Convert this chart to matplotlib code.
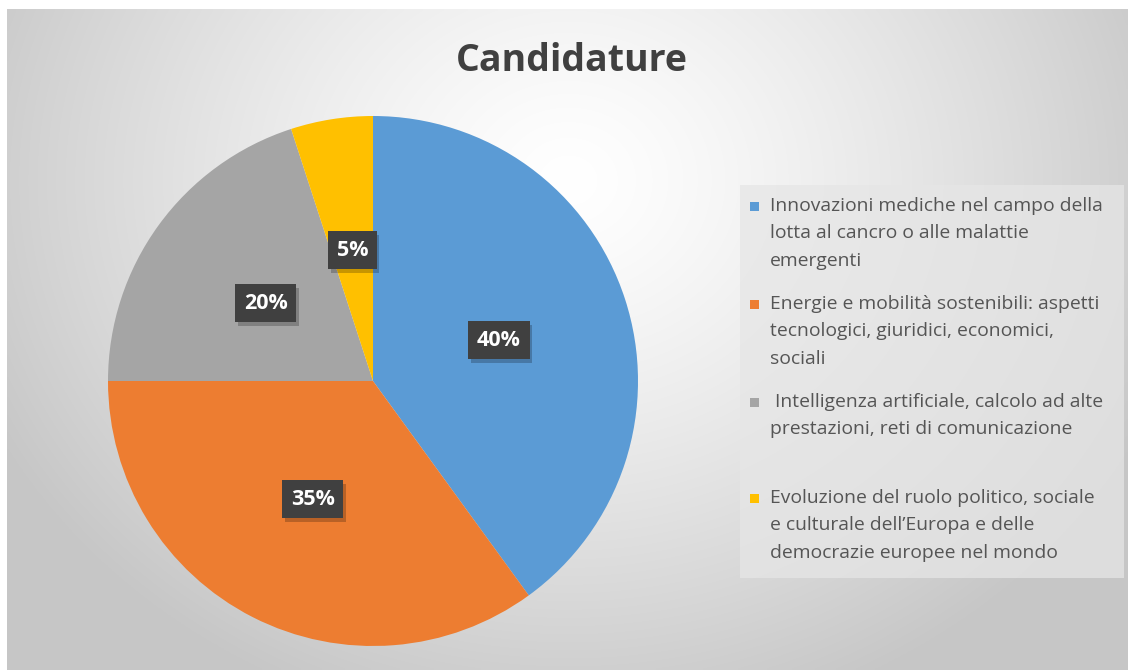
import numpy as np
import matplotlib
matplotlib.use("Agg")
import matplotlib.pyplot as plt
import matplotlib.patheffects as pe
from matplotlib.patches import Rectangle

# data
categories = [
    "Innovazioni mediche nel campo della\nlotta al cancro o alle malattie\nemergenti",
    "Energie e mobilità sostenibili: aspetti\ntecnologici, giuridici, economici,\nsociali",
    " Intelligenza artificiale, calcolo ad alte\nprestazioni, reti di comunicazione",
    "Evoluzione del ruolo politico, sociale\ne culturale dell\u2019Europa e delle\ndemocrazie europee nel mondo",
]
shares = [40, 35, 20, 5]
colors = ["#5B9BD5", "#ED7D31", "#A5A5A5", "#FFC000"]
title = "Candidature"

plt.rcParams['font.family'] = ['Open Sans', 'DejaVu Sans']

W, H = 1128, 670
fig = plt.figure(figsize=(W / 100, H / 100), dpi=100)
fig.patch.set_facecolor("white")

# radial gradient background (chart area starts a few px in from top/left)
bg = fig.add_axes([7 / W, 0, 1 - 7 / W, 1 - 9 / H])
bg.set_axis_off()
yy, xx = np.mgrid[0:200, 0:340]
xx = xx / 340 * (W - 7)
yy = yy / 200 * (H - 9)
d = np.hypot(xx - 560, (yy - 170) * 1.15) / 640
d = np.clip(d, 0, 1)
val = 1.0 - 0.22 * d ** 1.3
bg.imshow(np.dstack([val, val, val]), aspect="auto", extent=[0, 1, 1, 0],
          interpolation="bilinear")
bg.set_xlim(0, 1)
bg.set_ylim(1, 0)

fig.text(572 / W, 1 - 61 / H, title, ha="center", va="center",
         fontsize=27, fontweight="bold", color="#404040")

# pie
cx, cy, r = 373, 381, 265
ax = fig.add_axes([(cx - r) / W, (H - cy - r) / H, 2 * r / W, 2 * r / H])
wedges, texts, autotexts = ax.pie(
    shares, colors=colors, startangle=90, counterclock=False,
    autopct="%d%%", pctdistance=0.5, radius=1.0,
    wedgeprops=dict(linewidth=0),
    textprops=dict(color="white", fontsize=15.5, fontweight="bold"))
ax.set_xlim(-1, 1)
ax.set_ylim(-1, 1)
ax.set_aspect("equal")
for t in autotexts:
    t.set_bbox(dict(boxstyle="square,pad=0.4", facecolor="#404040",
                    edgecolor="none"))
    t.get_bbox_patch().set_path_effects(
        [pe.SimplePatchShadow(offset=(2, -3), shadow_rgbFace="black", alpha=0.22),
         pe.Normal()])

# legend box
lx0, ly0, lx1, ly1 = 740, 185, 1124, 578
fig.patches.append(Rectangle((lx0 / W, 1 - ly1 / H), (lx1 - lx0) / W,
                             (ly1 - ly0) / H, transform=fig.transFigure,
                             facecolor="#e6e6e6", alpha=0.75, edgecolor="none",
                             zorder=1))
entry_tops = [194, 292, 390, 486]
line_h = 27.5
for lab, col, top in zip(categories, colors, entry_tops):
    fig.patches.append(Rectangle((750 / W, 1 - (top + 17) / H), 9 / W, 9 / H,
                                 transform=fig.transFigure, facecolor=col,
                                 edgecolor="none", zorder=2))
    for k, line in enumerate(lab.split("\n")):
        fig.text(770 / W, 1 - (top + 12 + k * line_h) / H, line,
                 ha="left", va="center", fontsize=13.9, color="#555555")

fig.savefig("out.png", dpi=100, facecolor=fig.get_facecolor())
